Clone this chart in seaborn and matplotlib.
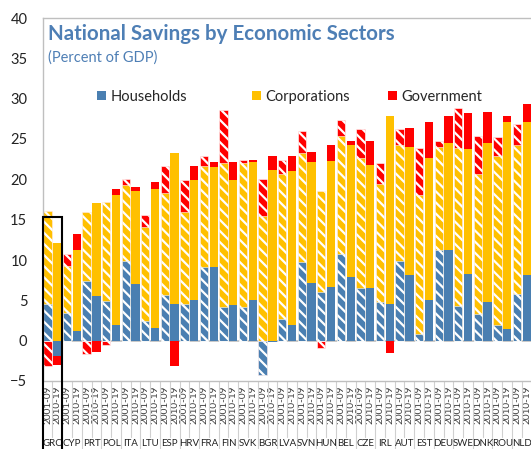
import numpy as np
import pandas as pd
import seaborn as sns
import matplotlib.pyplot as plt
from matplotlib.patches import Patch, Rectangle

# countries in chart order, two periods each
countries = ["GRC", "CYP", "PRT", "POL", "ITA", "LTU", "ESP", "HRV", "FRA", "FIN",
             "SVK", "BGR", "LVA", "SVN", "HUN", "BEL", "CZE", "IRL", "AUT", "EST",
             "DEU", "SWE", "DNK", "ROU", "NLD"]
periods = ["2001-09", "2010-19"]

# percent of GDP, 2001-09
hh_0109 = [4.5, 3.4, 7.4, 4.9, 9.9, 2.4, 5.6, 4.5, 9.1, 4.2,
           4.2, -4.2, 2.7, 9.7, 6.0, 10.7, 6.5, 4.8, 9.9, 0.8,
           11.3, 4.3, 3.3, 1.9, 5.8]
corp_0109 = [11.6, 5.9, 8.5, 12.3, 9.4, 11.7, 12.7, 11.4, 12.5, 17.8,
             17.8, 15.5, 18.0, 13.6, 12.5, 14.7, 16.2, 14.6, 14.3, 17.2,
             12.7, 19.6, 17.3, 21.0, 18.5]
gov_0109 = [-3.1, 1.4, -1.6, -0.5, 0.8, 1.5, 3.4, 4.0, 1.3, 6.6,
            0.4, 4.6, 1.7, 2.7, -0.9, 2.0, 3.5, 2.6, 2.1, 5.9,
            0.7, 5.0, 4.8, 2.3, 2.6]

# percent of GDP, 2010-19
hh_1019 = [-1.9, 1.2, 5.5, 1.9, 7.0, 1.6, 4.5, 5.0, 9.1, 4.4,
           5.0, -0.2, 1.9, 7.2, 6.7, 7.9, 6.5, 4.5, 8.1, 5.1,
           11.3, 8.3, 4.8, 1.4, 8.1]
corp_1019 = [12.1, 10.1, 11.6, 16.1, 11.5, 17.2, 18.8, 14.9, 12.4, 15.5,
             17.2, 21.2, 19.1, 15.0, 15.6, 16.4, 15.3, 23.3, 15.9, 17.5,
             13.2, 15.5, 19.7, 25.7, 19.0]
gov_1019 = [-1.1, 1.9, -1.4, 0.8, 0.6, 0.9, -3.1, 1.8, 0.6, 2.3,
            0.2, 1.7, 1.9, 1.2, 2.0, 0.5, 3.0, -1.5, 2.4, 4.5,
            3.4, 4.4, 3.8, 0.7, 2.2]

BLUE = "#4A7FB1"
YELLOW = "#FFC000"
RED = "#FF0000"
TITLE_BLUE = "#4E7FB5"
GREY = "#BFBFBF"

rows = []
for i, c in enumerate(countries):
    rows.append(dict(country=c, period=periods[0], hh=hh_0109[i], corp=corp_0109[i], gov=gov_0109[i]))
    rows.append(dict(country=c, period=periods[1], hh=hh_1019[i], corp=corp_1019[i], gov=gov_1019[i]))
df = pd.DataFrame(rows)
df["bar"] = df["country"] + " " + df["period"]

hh_pos = df["hh"].clip(lower=0)
hh_neg = df["hh"].clip(upper=0)
gov_pos = df["gov"].clip(lower=0)
gov_neg = df["gov"].clip(upper=0)

# layered cumulative bars (drawn back to front)
layers = [
    (hh_pos + df["corp"] + gov_pos, RED),
    (hh_pos + df["corp"], YELLOW),
    (hh_pos, BLUE),
    (hh_neg + gov_neg, RED),
    (hh_neg, BLUE),
]

sns.set_theme(style="white")
plt.rcParams["font.family"] = ["Lato", "DejaVu Sans"]
plt.rcParams["hatch.linewidth"] = 1.6

fig = plt.figure(figsize=(5.31, 4.49), dpi=100)
ax = fig.add_axes([42.6 / 531, 1 - 381 / 449, 489 / 531, 363 / 449])

ax.axhline(0, color=GREY, lw=1.2, zorder=0.5)

for vals, col in layers:
    n0 = len(ax.patches)
    sns.barplot(x=df["bar"], y=vals.values, order=list(df["bar"]), color=col,
                saturation=1, width=0.85, errorbar=None, ax=ax)
    for j, p in enumerate(ax.patches[n0:]):
        if df["period"].iloc[j] == periods[0]:
            p.set_hatch("\\\\\\")
            p.set_edgecolor("white")
            p.set_linewidth(0.4)
        else:
            p.set_edgecolor("none")

n = len(df)
ax.set_xlim(-0.5, n - 0.5)
ax.set_ylim(-5, 40)
ax.set_yticks(range(-5, 41, 5))
ax.set_xticks(range(n))
ax.set_xticklabels(df["period"], rotation=90, fontsize=7.2, color="#404040")
ax.set_xlabel("")
ax.set_ylabel("")
ax.tick_params(axis="x", length=0, pad=3)
ax.tick_params(axis="y", direction="in", length=4, color=GREY, labelsize=10.5,
               pad=11, labelcolor="#222222")

for s in ["left", "top", "bottom"]:
    ax.spines[s].set_color(GREY)
    ax.spines[s].set_linewidth(1)
ax.spines["right"].set_visible(False)

# separators in the category label area
for k in range(n - 1):
    x = k + 0.5
    y_end = -12.0 if k % 2 == 0 else -13.6
    ax.plot([x, x], [-5, y_end], color="#D0D0D0", lw=0.8, clip_on=False)

for i, c in enumerate(countries):
    ax.text(2 * i + 0.5, -12.8, c, ha="center", va="center", fontsize=7,
            color="#222222", clip_on=False)

# highlight box around Greece
ax.add_patch(Rectangle((-0.5, -14.5), 2, 15.3 + 14.5, fill=False, ec="black",
                       lw=1.5, clip_on=False, zorder=6))

fig.text(48 / 531, 1 - 40 / 449, "National Savings by Economic Sectors",
         fontsize=14.8, fontweight="bold", color=TITLE_BLUE, va="baseline")
fig.text(48 / 531, 1 - 62 / 449, "(Percent of GDP)", fontsize=10.5,
         color=TITLE_BLUE, va="baseline")

for label, col, xpx in [("Households", BLUE, 97), ("Corporations", YELLOW, 252),
                        ("Government", RED, 388)]:
    fig.legend(handles=[Patch(facecolor=col, edgecolor="none")], labels=[label],
               loc="center left", bbox_to_anchor=(xpx / 531, 1 - 97 / 449),
               frameon=False, borderpad=0, borderaxespad=0, handlelength=0.6,
               handleheight=0.6, handletextpad=0.3, fontsize=10.5)

plt.savefig("out.png", dpi=100)
